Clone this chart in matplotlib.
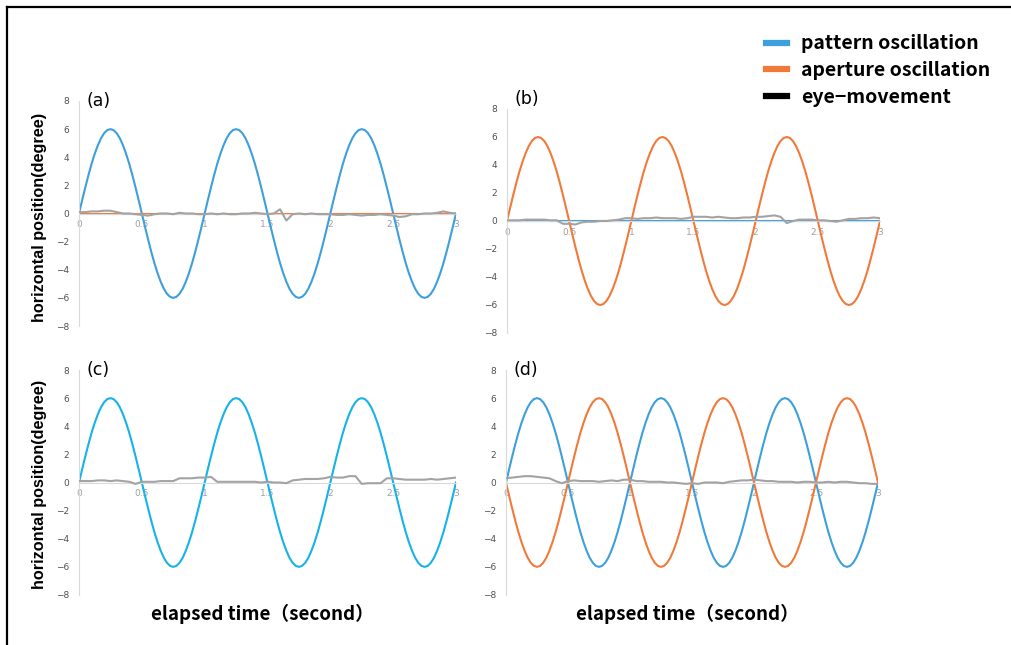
import numpy as np
import matplotlib
matplotlib.use("Agg")
import matplotlib.pyplot as plt
from matplotlib.lines import Line2D

# time axis (seconds) and one stimulus cycle sampled every 0.025 s
cycle = [0.0, 0.94, 1.85, 2.72, 3.53, 4.24, 4.85, 5.35, 5.71, 5.93,
         6.0, 5.93, 5.71, 5.35, 4.85, 4.24, 3.53, 2.72, 1.85, 0.94,
         0.0, -0.94, -1.85, -2.72, -3.53, -4.24, -4.85, -5.35, -5.71, -5.93,
         -6.0, -5.93, -5.71, -5.35, -4.85, -4.24, -3.53, -2.72, -1.85, -0.94]
n_cycles = 3
t_stim = np.arange(len(cycle) * n_cycles + 1) * 0.025
osc = np.array(cycle * n_cycles + [0.0])
flat = np.zeros_like(osc)

# eye-movement traces, read every 0.05 s
t_eye = np.arange(61) * 0.05
eye_a = [0.1, 0.1, 0.15, 0.15, 0.2, 0.2, 0.1, 0.0, 0.0, -0.05,
         -0.1, -0.15, -0.05, 0.0, 0.0, -0.05, 0.05, 0.0, 0.0, -0.05,
         -0.05, 0.0, -0.05, 0.0, -0.05, -0.05, 0.0, 0.0, 0.05, 0.0,
         -0.05, 0.0, 0.3, -0.5, -0.05, 0.0, -0.05, 0.0, -0.05, -0.05,
         -0.05, -0.1, -0.1, -0.05, -0.1, -0.15, -0.1, -0.1, -0.05, -0.1,
         -0.15, -0.25, -0.2, -0.05, -0.05, 0.0, 0.0, 0.05, 0.15, 0.05, 0.0]
eye_b = [0.05, 0.05, 0.05, 0.1, 0.1, 0.1, 0.1, 0.05, 0.05, -0.2,
         -0.2, -0.25, -0.1, -0.05, -0.05, 0.0, 0.0, 0.05, 0.1, 0.2,
         0.2, 0.15, 0.2, 0.2, 0.25, 0.2, 0.2, 0.2, 0.15, 0.2,
         0.3, 0.3, 0.3, 0.25, 0.3, 0.25, 0.2, 0.2, 0.25, 0.25,
         0.3, 0.3, 0.35, 0.4, 0.3, -0.15, 0.0, 0.1, 0.1, 0.1,
         0.05, 0.05, 0.0, -0.05, 0.05, 0.15, 0.15, 0.2, 0.2, 0.25, 0.2]
eye_c = [0.1, 0.1, 0.1, 0.15, 0.15, 0.1, 0.15, 0.1, 0.05, -0.1,
         0.05, 0.05, 0.05, 0.1, 0.1, 0.1, 0.3, 0.3, 0.3, 0.35,
         0.35, 0.4, 0.05, 0.05, 0.05, 0.05, 0.05, 0.05, 0.05, 0.0,
         0.05, 0.0, 0.0, -0.05, 0.15, 0.2, 0.25, 0.25, 0.25, 0.3,
         0.4, 0.35, 0.35, 0.45, 0.45, -0.1, -0.05, -0.05, -0.05, 0.3,
         0.3, 0.25, 0.2, 0.2, 0.2, 0.2, 0.25, 0.2, 0.25, 0.3, 0.35]
eye_d = [0.3, 0.35, 0.4, 0.45, 0.45, 0.4, 0.35, 0.3, 0.1, -0.05,
         0.1, 0.15, 0.1, 0.1, 0.1, 0.05, 0.1, 0.15, 0.1, 0.2,
         0.2, 0.1, 0.1, 0.05, 0.05, 0.05, 0.0, 0.0, -0.05, -0.1,
         -0.05, -0.1, 0.0, 0.0, 0.0, -0.05, 0.05, 0.1, 0.15, 0.15,
         0.2, 0.15, 0.1, 0.1, 0.05, 0.05, 0.05, 0.0, 0.05, 0.05,
         0.0, 0.0, 0.05, 0.0, 0.05, 0.05, 0.0, -0.05, -0.05, -0.1, -0.1]

x_ticks = [0, 0.5, 1, 1.5, 2, 2.5, 3]
x_tick_labels = ["0", "0.5", "1", "1.5", "2", "2.5", "3"]
y_ticks = [-8, -6, -4, -2, 0, 2, 4, 6, 8]

BLUE = "#3D9FDB"
CYAN = "#16B2E8"
ORANGE = "#F07A3A"
GRAY = "#A3A3A3"
AXIS = "#D9D9D9"

W, H = 1011, 645
fig = plt.figure(figsize=(W / 100, H / 100), dpi=100)


def px_axes(x0, x1, ytop, ybot):
    return fig.add_axes([x0 / W, 1 - ybot / H, (x1 - x0) / W, (ybot - ytop) / H])


def style(ax):
    ax.set_xlim(0, 3)
    ax.set_ylim(-8, 8)
    for s in ["top", "right"]:
        ax.spines[s].set_visible(False)
    ax.spines["left"].set_color(AXIS)
    ax.spines["bottom"].set_color(AXIS)
    ax.spines["bottom"].set_position(("data", 0))
    ax.set_xticks(x_ticks)
    ax.set_xticklabels(x_tick_labels)
    ax.set_yticks(y_ticks)
    ax.tick_params(axis="x", length=0, pad=5, labelsize=6.5, labelcolor="#A0A0A0")
    ax.tick_params(axis="y", length=0, pad=7, labelsize=6.5, labelcolor="#505050")
    ax.set_facecolor("none")


panels = [
    ("(a)", (79, 456, 101, 326), [(osc, BLUE), (flat, ORANGE)], eye_a, 1.0),
    ("(b)", (507, 880, 109, 333), [(flat, BLUE), (osc, ORANGE)], eye_b, 1.045),
    ("(c)", (79, 456, 370, 595), [(osc, CYAN)], eye_c, 1.0),
    ("(d)", (506, 878, 370, 595), [(osc, BLUE), (-osc, ORANGE)], eye_d, 1.0),
]

axes = []
for label, box, stims, eye, ylab in panels:
    ax = px_axes(*box)
    style(ax)
    ax.plot(t_eye, eye, color=GRAY, lw=1.5, zorder=3)
    for vals, col in stims:
        ax.plot(t_stim, vals, color=col, lw=1.5, zorder=2)
    ax.text(0.02, ylab, label, transform=ax.transAxes, fontsize=12.5,
            va="center", ha="left")
    axes.append(ax)

ylab_font = dict(fontsize=11.7, fontweight="bold", family="Liberation Sans")
fig.text(40 / W, 1 - 217 / H, "horizontal position(degree)", rotation=90,
         ha="center", va="center", **ylab_font)
fig.text(40 / W, 1 - 484 / H, "horizontal position(degree)", rotation=90,
         ha="center", va="center", **ylab_font)

xlab_font = dict(fontsize=13.5, fontweight="bold", family=["Noto Sans CJK JP", "DejaVu Sans"])
fig.text(262 / W, 1 - 614 / H, "elapsed time\uff08second\uff09", ha="center", va="center", **xlab_font)
fig.text(687 / W, 1 - 614 / H, "elapsed time\uff08second\uff09", ha="center", va="center", **xlab_font)

# legend
handles = [Line2D([], [], color=BLUE, lw=4.5),
           Line2D([], [], color=ORANGE, lw=4.5),
           Line2D([], [], color="black", lw=4.5)]
names = ["pattern oscillation", "aperture oscillation", "eye\u2212movement"]
fig.legend(handles, names, loc="upper left", bbox_to_anchor=(748 / W, 1 - 17 / H),
           frameon=False, handlelength=1.1, handletextpad=0.75, labelspacing=0.4,
           prop=dict(size=14, weight="bold", family=["Noto Sans CJK JP", "DejaVu Sans"]))

# frame lines of the original figure
fig.add_artist(Line2D([7 / W, 1], [1 - 7 / H, 1 - 7 / H], color="black", lw=1.6,
                      transform=fig.transFigure))
fig.add_artist(Line2D([7 / W, 7 / W], [0, 1 - 7 / H], color="black", lw=1.6,
                      transform=fig.transFigure))

fig.savefig("out.png", dpi=100)
